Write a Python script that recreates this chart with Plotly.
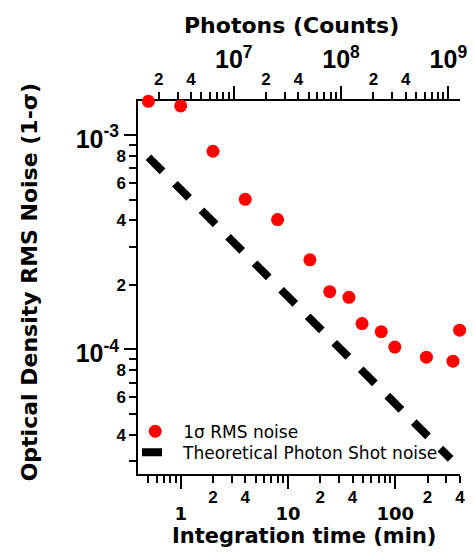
import math
import plotly.graph_objects as go

# ---------------- data ----------------
time_min = [0.5, 1, 2, 4, 8, 16, 24.5, 37, 49, 74, 99, 195, 345, 398]
rms_noise = [1.44e-3, 1.37e-3, 8.42e-4, 5.02e-4, 4.04e-4, 2.62e-4, 1.86e-4,
             1.75e-4, 1.32e-4, 1.21e-4, 1.026e-4, 9.2e-5, 8.81e-5, 1.23e-4]
shot_time = [0.5, 328]
shot_noise = [7.89e-4, 3.08e-5]

photons_per_min = 3.2e6

# ---------------- tick definitions ----------------
x_minor_vals = [0.5, 0.6, 0.7, 0.8, 0.9, 2, 3, 4, 5, 6, 7, 8, 9,
                20, 30, 40, 50, 60, 70, 80, 90, 200, 300, 400]
x_minor_text = ["", "", "", "", "", "2", "", "4", "", "", "", "", "",
                "2", "", "4", "", "", "", "", "", "2", "", "4"]
x_major_vals = [1, 10, 100]
x_major_text = ["1", "10", "100"]

top_minor_vals = [2e6, 3e6, 4e6, 5e6, 6e6, 7e6, 8e6, 9e6,
                  2e7, 3e7, 4e7, 5e7, 6e7, 7e7, 8e7, 9e7,
                  2e8, 3e8, 4e8, 5e8, 6e8, 7e8, 8e8, 9e8]
top_minor_text = ["2", "", "4", "", "", "", "", "",
                  "2", "", "4", "", "", "", "", "",
                  "2", "", "4", "", "", "", "", ""]
top_major_vals = [1e7, 1e8, 1e9]
top_major_text = ["10<sup>7</sup>", "10<sup>8</sup>", "10<sup>9</sup>"]

y_minor_vals = [3e-5, 4e-5, 5e-5, 6e-5, 7e-5, 8e-5, 9e-5,
                2e-4, 3e-4, 4e-4, 5e-4, 6e-4, 7e-4, 8e-4, 9e-4]
y_minor_text = ["", "4", "", "6", "", "8", "",
                "2", "", "4", "", "6", "", "8", ""]
y_major_vals = [1e-4, 1e-3]
y_major_text = ["10<sup>-4</sup>", "10<sup>-3</sup>"]

x_range = [0.4, 401]
y_range = [2.62e-5, 1.445e-3]

# ---------------- figure ----------------
fig = go.Figure()
fig.add_trace(go.Scatter(
    x=time_min, y=rms_noise, mode="markers",
    marker=dict(color="#ff0000", size=13),
    name="1σ RMS noise", cliponaxis=False, legend="legend", showlegend=True))
fig.add_trace(go.Scatter(
    x=shot_time, y=shot_noise, mode="lines",
    line=dict(color="black", width=8, dash="20px,17.5px"),
    name="Theoretical Photon Shot noise", legend="legend2", showlegend=True))

# empty helper traces so that the overlaid tick axes get drawn
for xa, ya in [("x2", "y"), ("x3", "y"), ("x4", "y"), ("x", "y2")]:
    fig.add_trace(go.Scatter(x=[], y=[], xaxis=xa, yaxis=ya, mode="markers",
                             showlegend=False, hoverinfo="skip"))

minor_font = dict(family="Liberation Sans", size=17, weight="bold", color="black")
common = dict(type="log", showgrid=False, zeroline=False, ticks="outside",
              tickcolor="black", tickwidth=1.5, layer="below traces")

lx = [math.log10(v) for v in x_range]
ltop = [math.log10(v * photons_per_min) for v in x_range]
ly = [math.log10(v) for v in y_range]

fig.update_layout(
    width=475, height=560,
    margin=dict(l=138, r=8, t=101, b=86),
    plot_bgcolor="white", paper_bgcolor="white",
    showlegend=True,
    xaxis=dict(**common, range=lx, anchor="y", side="bottom",
               showline=True, linecolor="black", linewidth=1.5,
               tickmode="array", tickvals=x_minor_vals, ticktext=x_minor_text,
               ticklen=7, tickfont=minor_font, ticklabelstandoff=0),
    xaxis3=dict(**common, range=lx, anchor="y", side="bottom", overlaying="x",
                showline=False, tickmode="array", tickvals=x_major_vals,
                ticktext=x_major_text, ticklen=14,
                tickfont=dict(family="DejaVu Sans", size=18, weight="bold", color="black"),
                ticklabelstandoff=9),
    xaxis2=dict(**common, range=ltop, anchor="y", side="top", overlaying="x",
                showline=True, linecolor="black", linewidth=1.5,
                tickmode="array", tickvals=top_minor_vals, ticktext=top_minor_text,
                ticklen=7, tickfont=minor_font, ticklabelstandoff=0),
    xaxis4=dict(**common, range=ltop, anchor="y", side="top", overlaying="x",
                showline=False, tickmode="array", tickvals=top_major_vals,
                ticktext=top_major_text, ticklen=14,
                tickfont=dict(family="Liberation Sans", size=25, weight="bold", color="black"),
                ticklabelstandoff=8),
    yaxis=dict(**common, range=ly, anchor="x", side="left",
               showline=True, linecolor="black", linewidth=1.5,
               tickmode="array", tickvals=y_minor_vals, ticktext=y_minor_text,
               ticklen=7, tickfont=minor_font, ticklabelstandoff=0),
    yaxis2=dict(**common, range=ly, anchor="x", side="left", overlaying="y",
                showline=False, tickmode="array", tickvals=y_major_vals,
                ticktext=y_major_text, ticklen=13,
                tickfont=dict(family="Liberation Sans", size=25, weight="bold", color="black"),
                ticklabelstandoff=0, ticklabelshift=4),
    legend=dict(visible=True, x=(127 - 138) / 329, y=0.1134, xanchor="left", yanchor="middle",
                bgcolor="rgba(0,0,0,0)", itemwidth=46,
                font=dict(family="DejaVu Sans", size=17, color="black")),
    legend2=dict(visible=True, x=(137 - 138) / 329, y=0.0571, xanchor="left", yanchor="middle",
                 bgcolor="rgba(0,0,0,0)", itemwidth=36,
                 font=dict(family="DejaVu Sans", size=17, color="black")),
    annotations=[
        dict(text="Integration time (min)", x=0.5167, y=-0.1662, xref="paper", yref="paper",
             showarrow=False, xanchor="center", yanchor="middle",
             font=dict(family="DejaVu Sans", size=21, weight="bold", color="black")),
        dict(text="Photons (Counts)", x=0.477, y=1.202, xref="paper", yref="paper",
             showarrow=False, xanchor="center", yanchor="middle",
             font=dict(family="DejaVu Sans", size=22, weight="bold", color="black")),
        dict(text="Optical Density RMS Noise (1-σ)", x=-0.3374, y=0.5147,
             xref="paper", yref="paper", textangle=-90,
             showarrow=False, xanchor="center", yanchor="middle",
             font=dict(family="DejaVu Sans", size=22, weight="bold", color="black")),
    ],
)

fig.write_html("out.html")
